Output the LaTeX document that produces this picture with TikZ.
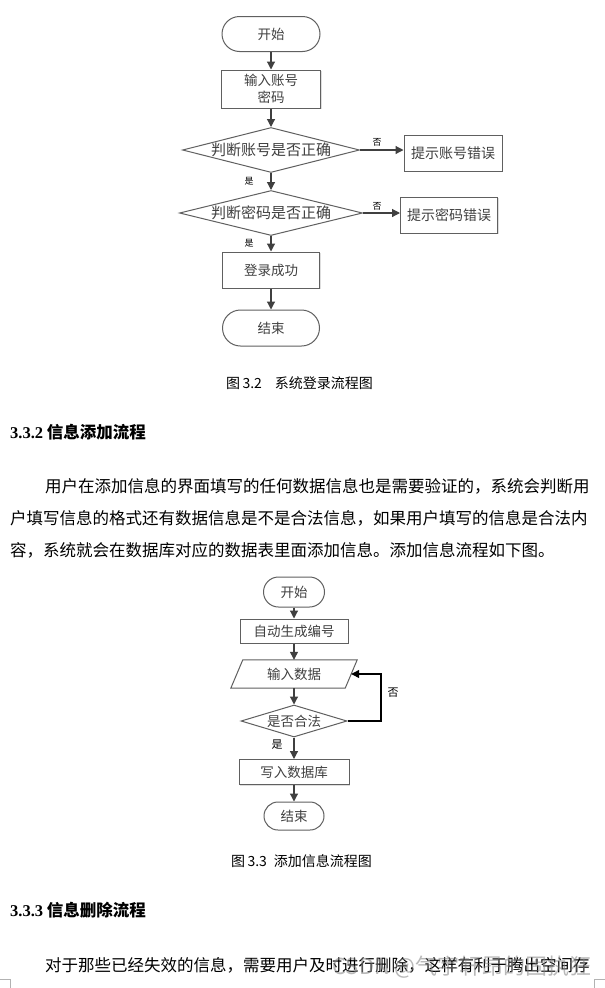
\documentclass[tikz,border=0pt]{standalone}
\usepackage{fontspec}
\setmainfont{Noto Sans CJK SC}
\newfontfamily\timesfont{Liberation Serif}
\usetikzlibrary{shapes.geometric,arrows.meta,shadows}

\definecolor{linegray}{RGB}{64,64,64}
\definecolor{boxgray}{RGB}{96,96,96}
\definecolor{textgray}{RGB}{64,64,64}

\tikzstyle{startstop}=[draw=boxgray,line width=1pt,rectangle,inner sep=0pt,text=textgray,font=\fontsize{13.5}{14}\selectfont]
\tikzstyle{process}=[draw=boxgray,line width=1pt,rectangle,inner sep=0pt,fill=white,text=textgray,align=center,font=\fontsize{13.5}{17}\selectfont,drop shadow={shadow xshift=1pt,shadow yshift=-1pt,fill=black!25}]
\tikzstyle{decision}=[draw=boxgray,line width=1pt,diamond,aspect=4,inner sep=0pt,text=textgray,font=\fontsize{13.5}{14}\selectfont]
\tikzstyle{io}=[rectangle,inner sep=0pt,text=textgray,font=\fontsize{13.5}{14}\selectfont]
\tikzstyle{arrow}=[draw=linegray,line width=1.2pt,-{Triangle[length=8pt,width=8pt]}]
\tikzstyle{lab}=[inner sep=0pt,font=\fontsize{9}{9}\selectfont]
\tikzstyle{body}=[anchor=west,inner sep=0pt,font=\fontsize{16.5}{16.5}\selectfont]
\tikzstyle{caption}=[anchor=west,inner sep=0pt,font=\fontsize{14}{14}\selectfont]

\begin{document}
\begin{tikzpicture}[x=1pt,y=-1pt]
        \fill[white] (0,0) rectangle (605,988);
        \useasboundingbox (0,0) rectangle (605,988);

        % login flow
        \node[startstop,minimum width=98pt,minimum height=35pt,rounded corners=17.5pt] (start1) at (271,34) {开始};
        \node[process,minimum width=99pt,minimum height=38pt] (input1) at (271,89) {输入账号\\密码};
        \node[decision,minimum width=177pt,minimum height=45pt,font=\fontsize{15}{15}\selectfont] (checkname) at (271,150) {判断账号是否正确};
        \node[process,minimum width=98pt,minimum height=36pt,font=\fontsize{14}{14}\selectfont] (nameerr) at (453,153) {提示账号错误};
        \node[decision,minimum width=183pt,minimum height=45pt,font=\fontsize{15}{15}\selectfont] (checkpwd) at (271,213) {判断密码是否正确};
        \node[process,minimum width=97pt,minimum height=36pt,font=\fontsize{14}{14}\selectfont] (pwderr) at (449,215) {提示密码错误};
        \node[process,minimum width=97pt,minimum height=36pt] (ok1) at (271,270) {登录成功};
        \node[startstop,minimum width=97pt,minimum height=36pt,rounded corners=18pt] (end1) at (271,328) {结束};

        \draw[arrow] (start1) -- (input1);
        \draw[arrow] (input1) -- (checkname);
        \draw[arrow] (checkname.east) -- (checkname.east -| nameerr.west);
        \draw[arrow] (checkname) -- (checkpwd);
        \draw[arrow] (checkpwd.east) -- (checkpwd.east -| pwderr.west);
        \draw[arrow] (checkpwd) -- (ok1);
        \draw[arrow] (ok1) -- (end1);
        \node[lab] (no1) at (377,142) {否};
        \node[lab] (yes1) at (249,181) {是};
        \node[lab] (no2) at (377,206) {否};
        \node[lab] (yes2) at (249,243) {是};

        \node[caption] (cap1) at (226,383) {图\,3.2\hspace{13pt}系统登录流程图};

        \node[anchor=west,inner sep=0pt,font=\fontsize{16.5}{16.5}\selectfont] (sec2) at (10,432) {{\timesfont\bfseries 3.3.2} \textbf{信息添加流程}};
        \node[body] (par1) at (45,486) {用户在添加信息的界面填写的任何数据信息也是需要验证的，系统会判断用};
        \node[body] (par2) at (10,518) {户填写信息的格式还有数据信息是不是合法信息，如果用户填写的信息是合法内};
        \node[body] (par3) at (10,550) {容，系统就会在数据库对应的数据表里面添加信息。添加信息流程如下图。};

        % add flow
        \node[startstop,minimum width=61pt,minimum height=30pt,rounded corners=15pt] (start2) at (294,592) {开始};
        \node[process,minimum width=108pt,minimum height=24pt] (autoid) at (294,631) {自动生成编号};
        \node[io,minimum width=114pt,minimum height=28pt] (indata) at (294,674) {输入数据};
        \draw[draw=boxgray,line width=1pt] ([xshift=-6pt]indata.south west) -- ([xshift=6pt]indata.north west)
            -- ([xshift=6pt]indata.north east) -- ([xshift=-6pt]indata.south east) -- cycle;
        \node[decision,minimum width=106pt,minimum height=32pt] (legal) at (294,721) {是否合法};
        \node[process,minimum width=110pt,minimum height=25pt] (writedb) at (294,772) {写入数据库};
        \node[startstop,minimum width=60pt,minimum height=28pt,rounded corners=14pt] (end2) at (294,816) {结束};
        \coordinate (back) at (381,721);

        \draw[arrow] (start2) -- (autoid);
        \draw[arrow] (autoid) -- (indata);
        \draw[arrow] (indata) -- (legal);
        \draw[arrow] (legal) -- (writedb);
        \draw[arrow] (writedb) -- (end2);
        \draw[arrow,draw=black] (legal.east) -- (back) |- (indata.east);
        \node[lab,font=\fontsize{11}{11}\selectfont] (no3) at (393,693) {否};
        \node[lab,font=\fontsize{11}{11}\selectfont] (yes3) at (277,745) {是};

        \node[caption] (cap2) at (231,861) {图\,3.3\hspace{7pt}添加信息流程图};

        \node[anchor=west,inner sep=0pt,font=\fontsize{16.5}{16.5}\selectfont] (sec3) at (10,910) {{\timesfont\bfseries 3.3.3} \textbf{信息删除流程}};
        \node[body] (par4) at (45,965) {对于那些已经失效的信息，需要用户及时进行删除，这样有利于腾出空间存};
        \node[anchor=east,inner sep=0pt,text=gray,opacity=0.55,font=\fontsize{22}{22}\selectfont] (mark) at (592,967) {CSDN @气宇轩昂的固执狂};

        % page corners
        \draw[black!30] (0,979) -- (10,979) -- (10,988);
        \draw[black!30] (605,979) -- (594,979) -- (594,988);
    \end{tikzpicture}
\end{document}
